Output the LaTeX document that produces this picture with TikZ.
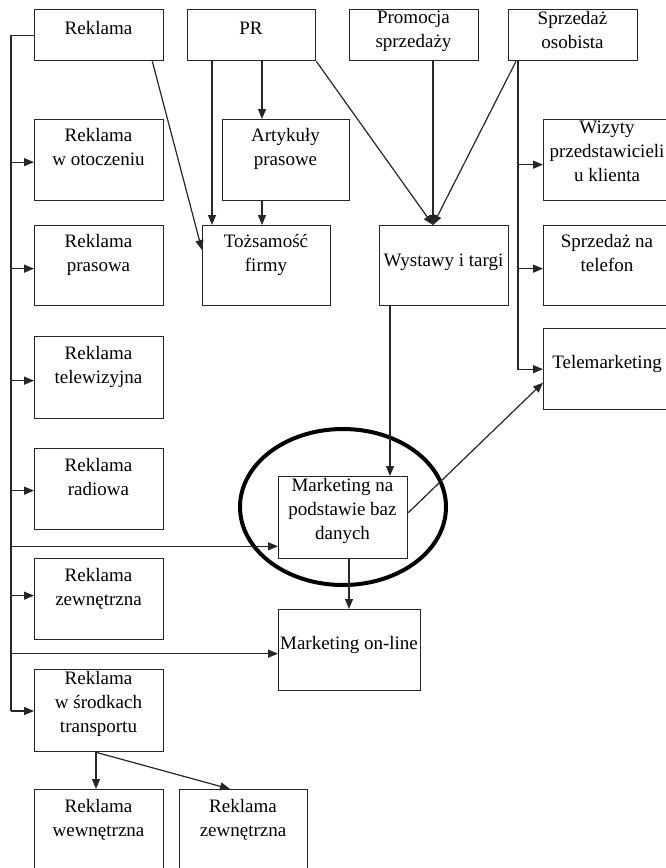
\documentclass[tikz,border=0pt]{standalone}
\usepackage{fontspec}
\setmainfont{Liberation Serif}
\usetikzlibrary{arrows.meta,shapes.geometric}
% box with its top-left corner at (x,y), width and height in pt
\newcommand\mkbox[5]{\node[box, minimum width=#4pt, minimum height=#5pt] (#1) at (#2,#3) {};}
\begin{document}
\begin{tikzpicture}[x=1pt,y=-1pt,
  box/.style={draw=black!85, line width=1.3pt, rectangle, inner sep=0pt, anchor=north west},
  txt/.style={anchor=north, inner sep=0pt, align=center, yshift=-3pt,
    font=\fontsize{19}{24}\selectfont, execute at begin node={\rule{0pt}{16.8pt}}},
  conn/.style={draw=black!85, line width=1.2pt},
  arr/.style={conn, -{Triangle[length=10pt,width=8pt]}},
  hilite/.style={draw=black, ellipse, line width=4pt, inner sep=0pt}
]
\useasboundingbox (0,0) rectangle (665,868);

% highlight round the database marketing box
\node[hilite, minimum width=206pt, minimum height=156pt] (hl) at (343,507) {};

% boxes
\mkbox{rek}{34}{9}{129}{51}
\mkbox{pr}{187}{9}{128}{51}
\mkbox{prom}{349}{9}{129}{51}
\mkbox{sprz}{508}{9}{129}{51}
\mkbox{otocz}{34}{119}{129}{81}
\mkbox{art}{222}{119}{127}{81}
\mkbox{toz}{202}{225}{128}{80}
\mkbox{pras}{34}{225}{129}{80}
\mkbox{wyst}{379}{225}{129}{80}
\mkbox{wiz}{543}{119}{128}{81}
\mkbox{tel}{543}{225}{128}{80}
\mkbox{telem}{543}{328}{128}{81}
\mkbox{telew}{34}{336}{129}{82}
\mkbox{radio}{34}{448}{129}{81}
\mkbox{mbd}{278}{476}{129}{82}
\mkbox{zewn}{34}{558}{129}{81}
\mkbox{online}{278}{609}{142}{81}
\mkbox{srod}{34}{669}{129}{82}
\mkbox{wewn}{34}{789}{129}{83}
\mkbox{zewnb}{179}{789}{128}{83}

% labels
\node[txt] (t-rek) at (98.5,14.2) {Reklama};
\node[txt] (t-pr) at (251,14.2) {PR};
\node[txt] (t-prom) at (413.5,8.2) {Promocja\\sprzedaży};
\node[txt] (t-sprz) at (572.5,8.2) {Sprzedaż\\osobista};
\node[txt] (t-otocz) at (98.5,125.2) {Reklama\\w otoczeniu};
\node[txt] (t-art) at (285.5,125.2) {Artykuły\\prasowe};
\node[txt] (t-toz) at (266,231.2) {Tożsamość\\firmy};
\node[txt] (t-pras) at (98.5,231.2) {Reklama\\prasowa};
\node[txt] (t-wyst) at (443.5,246.2) {Wystawy i targi};
\node[txt] (t-wiz) at (607,118.2) {Wizyty\\przedstawicieli\\u klienta};
\node[txt] (t-tel) at (607,231.2) {Sprzedaż na\\telefon};
\node[txt] (t-telem) at (607,348.2) {Telemarketing};
\node[txt] (t-telew) at (98.5,343.2) {Reklama\\telewizyjna};
\node[txt] (t-radio) at (98.5,455.2) {Reklama\\radiowa};
\node[txt] (t-mbd) at (342.5,475.2) {Marketing na\\podstawie baz\\danych};
\node[txt] (t-zewn) at (98.5,565.2) {Reklama\\zewnętrzna};
\node[txt] (t-online) at (349,629.2) {Marketing on-line};
\node[txt] (t-srod) at (98.5,668.2) {Reklama\\w środkach\\transportu};
\node[txt] (t-wewn) at (98.5,796.2) {Reklama\\wewnętrzna};
\node[txt] (t-zewnb) at (243,796.2) {Reklama\\zewnętrzna};

% advertising bus on the left
\coordinate (bend) at (11,711);
\draw[conn] (rek.west) -| (bend);
\draw[arr] (bend) -- (srod.west |- bend);
\path ([yshift=-2pt]otocz.west) coordinate (a1)
      ([yshift=-3pt]pras.west) coordinate (a2)
      ([yshift=-3pt]telew.west) coordinate (a3)
      ([yshift=-1.5pt]radio.west) coordinate (a4)
      ([yshift=13pt]mbd.south west) coordinate (a5)
      ([yshift=3.5pt]zewn.west) coordinate (a6)
      ([yshift=-3.5pt]online.west) coordinate (a7);
\foreach \c in {a1,a2,a3,a4,a5,a6,a7}
  \draw[arr] (bend |- \c) -- (\c);

% advertising and PR to company identity
\draw[arr] ([xshift=-12pt]rek.south east) -- ([yshift=-25pt]toz.north west);
\draw[arr] ([xshift=25pt]pr.south west) -- ([xshift=10pt]toz.north west);
\draw[arr] ([xshift=75pt]pr.south west) -- ([xshift=40pt]art.north west);
\draw[arr] ([xshift=40pt]art.south west) -- ([xshift=60pt]toz.north west);

% three sources meeting at fairs and exhibitions
\coordinate (wt) at ([xshift=54pt]wyst.north west);
\draw[arr] (pr.south east) -- (wt);
\draw[arr] ([xshift=84pt]prom.south west) -- (wt);
\draw[arr] ([xshift=8pt]sprz.south west) -- (wt);

% personal selling branches
\coordinate (sb) at ([xshift=10pt]sprz.south west);
\draw[arr] (sb) |- (telem.west);
\draw[arr] (sb |- wiz.west) ++(0,4.5) -- ([yshift=-4.5pt]wiz.west);
\draw[arr] (sb |- tel.west) ++(0,3) -- ([yshift=-3pt]tel.west);

% database marketing links
\draw[arr] ([xshift=11pt]wyst.south west) -- ([xshift=11pt]wyst.south west |- mbd.north);
\draw[arr] ([yshift=5pt]mbd.east) -- ([yshift=-13.5pt]telem.west);
\draw[arr] ([xshift=71pt]mbd.south west) -- ([xshift=71pt]mbd.south west |- online.north);

% transport advertising split
\draw[arr] ([xshift=62pt]srod.south west) -- ([xshift=62pt]wewn.north west);
\draw[arr] ([xshift=62pt]srod.south west) -- ([xshift=51pt]zewnb.north west);
\end{tikzpicture}
\end{document}
